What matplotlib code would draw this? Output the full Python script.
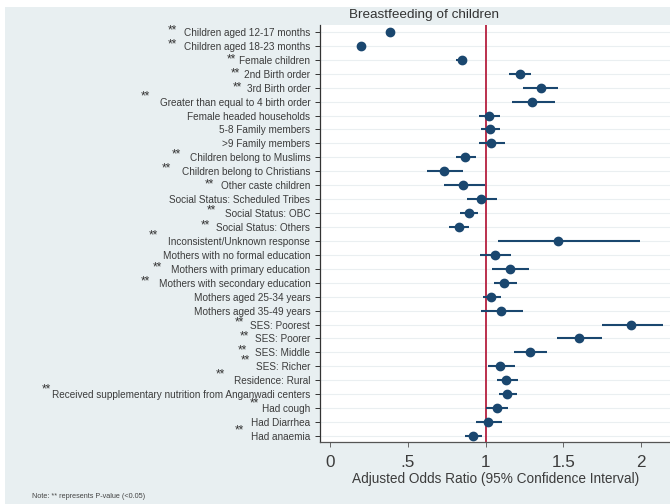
import matplotlib
matplotlib.use("Agg")
import matplotlib.pyplot as plt
from matplotlib.patches import Rectangle

plt.rcParams['font.family'] = ['Liberation Sans', 'DejaVu Sans']

# adjusted odds ratios with 95% CI, top row first
labels = ['Children aged 12-17 months', 'Children aged 18-23 months', 'Female children',
          '2nd Birth order', '3rd Birth order', 'Greater than equal to 4 birth order',
          'Female headed households', '5-8 Family members', '>9 Family members',
          'Children belong to Muslims', 'Children belong to Christians', 'Other caste children',
          'Social Status: Scheduled Tribes', 'Social Status: OBC', 'Social Status: Others',
          'Inconsistent/Unknown response', 'Mothers with no formal education',
          'Mothers with primary education', 'Mothers with secondary education',
          'Mothers aged 25-34 years', 'Mothers aged 35-49 years', 'SES: Poorest', 'SES: Poorer',
          'SES: Middle', 'SES: Richer', 'Residence: Rural',
          'Received supplementary nutrition from Anganwadi centers', 'Had cough',
          'Had Diarrhea', 'Had anaemia']
aor = [0.386, 0.199, 0.845, 1.218, 1.353, 1.299, 1.020, 1.029, 1.037, 0.868,
       0.729, 0.855, 0.971, 0.894, 0.827, 1.466, 1.061, 1.158, 1.121, 1.037,
       1.100, 1.934, 1.601, 1.284, 1.095, 1.134, 1.138, 1.070, 1.018, 0.918]
ci_lo = [0.37, 0.19, 0.81, 1.153, 1.243, 1.170, 0.956, 0.973, 0.960, 0.810,
         0.624, 0.735, 0.883, 0.836, 0.765, 1.078, 0.965, 1.044, 1.055, 0.984,
         0.971, 1.749, 1.460, 1.181, 1.018, 1.072, 1.085, 0.999, 0.937, 0.866]
ci_hi = [0.40, 0.21, 0.88, 1.293, 1.464, 1.443, 1.095, 1.095, 1.123, 0.937,
         0.857, 0.997, 1.070, 0.950, 0.894, 1.991, 1.166, 1.280, 1.203, 1.100,
         1.239, 2.141, 1.751, 1.395, 1.190, 1.205, 1.200, 1.143, 1.106, 0.977]
xticks = [0, 0.5, 1, 1.5, 2]
xticklabels = ['0', '.5', '1', '1.5', '2']

# where the "**" marks sit (figure pixels, x centre / y centre)
star_xy = [(172.7, 26.7), (172.7, 41.3), (231, 56), (235, 70), (237, 84), (145.7, 93.3),
           (176.7, 150.7), (166.7, 165.3), (209, 180.7), (211, 207.3), (205.7, 221.7),
           (153, 232), (157.7, 264.3), (145.7, 278.3), (239, 319.3), (244.3, 333.3),
           (242.3, 346.7), (245.7, 357.3), (220.7, 371), (46, 386), (254.7, 400),
           (239, 427.3)]

W, H = 670, 504
BG = '#E8EFF1'
NAVY = '#1A476F'
RED = '#B5203F'
TXT = '#3C3C3C'

fig = plt.figure(figsize=(W / 100, H / 100), dpi=100, facecolor='white')
fig.patches.append(Rectangle((5 / W, 0), 1, 1 - 7 / H, transform=fig.transFigure,
                             facecolor=BG, edgecolor='none', zorder=-5))

ax = fig.add_axes([319.5 / W, 1 - 442 / H, 1 - 319.5 / W, (442 - 25) / H])
ax.set_facecolor('white')

ypos = list(range(len(labels)))
ax.hlines(ypos, ci_lo, ci_hi, color=NAVY, lw=1.5, zorder=3)
ax.plot(aor, ypos, 'o', ms=6, color=NAVY, zorder=4)
ax.axvline(1, color=RED, lw=1.3, zorder=2)

ax.set_xlim(-0.069, 2.186)
ax.set_ylim(len(labels) - 0.57, -0.5)
ax.set_yticks(ypos)
ax.set_yticklabels(labels, fontsize=7.2, color=TXT)
ax.set_xticks(xticks)
ax.set_xticklabels(xticklabels, fontsize=12.3, color=TXT)
ax.yaxis.grid(True, color='#EAEFF1', lw=0.8)
ax.set_axisbelow(True)

ax.tick_params(axis='y', length=3.6, width=0.7, pad=3, color='#333333')
ax.tick_params(axis='x', length=3.6, width=0.7, pad=6, color='#666666')
for s in ['top', 'right']:
    ax.spines[s].set_visible(False)
ax.spines['left'].set_color('#333333')
ax.spines['left'].set_linewidth(0.9)
ax.spines['bottom'].set_color('#555555')
ax.spines['bottom'].set_linewidth(0.9)

fig.text(423.7 / W, 1 - 15 / H, 'Breastfeeding of children', ha='center', va='center',
         fontsize=9.7, color='#333333')
fig.text(496 / W, 1 - 479.5 / H, 'Adjusted Odds Ratio (95% Confidence Interval)',
         ha='center', va='center', fontsize=9.8, color=TXT)
fig.text(31.7 / W, 1 - 497 / H, 'Note: ** represents P-value (<0.05)', ha='left',
         va='center', fontsize=5.2, color='#444444')

# significance marks, drawn a little larger than the row labels
for sx, sy in star_xy:
    fig.text(sx / W, 1 - (sy + 6.5) / H, '**', ha='center', va='baseline',
             fontsize=8.5, color='#333333')

fig.savefig('out.png', dpi=100, facecolor=fig.get_facecolor())
